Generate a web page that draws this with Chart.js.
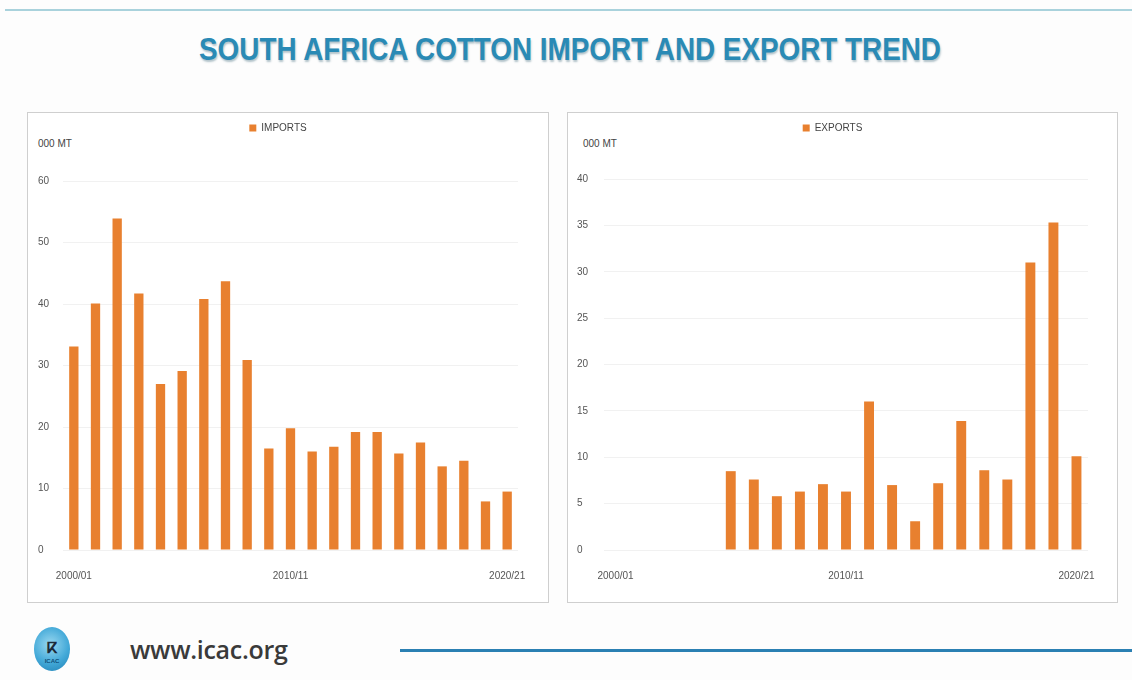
<!DOCTYPE html>
<html>
<head>
<meta charset="utf-8">
<script src="https://cdn.jsdelivr.net/npm/chart.js@4/dist/chart.umd.min.js"></script>
<style>
  html, body { margin: 0; padding: 0; }
  body { width: 1132px; height: 680px; background: #fdfdfd; position: relative; overflow: hidden; font-family: 'Liberation Sans', Arial, sans-serif; }
  .topline { position: absolute; left: 5px; right: 0; top: 9px; height: 2px; background: #a9d2dc; }
  .title { position: absolute; left: 0; width: 1140px; top: 31px; text-align: center; font-family: 'Liberation Sans', sans-serif; font-weight: bold; font-size: 32px; color: #2a8ab5; text-shadow: 1px 2px 2px rgba(40,90,110,0.35); transform: scaleX(0.87); transform-origin: 570px 0; }
  .panel { position: absolute; top: 112px; height: 489px; border: 1.5px solid #cfcfcf; background: #fff; }
  .unit { position: absolute; top: 138px; font-size: 10px; color: #444; }
  canvas { position: absolute; }
  .logo { position: absolute; left: 34px; top: 627px; width: 36px; height: 44px; border-radius: 50%; background: radial-gradient(circle at 45% 40%, #9ad8f0 0%, #43a9d8 55%, #1f7fb4 100%); }
  .logo span { position: absolute; left: 0; width: 36px; top: 12px; text-align: center; font-size: 15px; font-weight: bold; color: #1d2b3a; }
  .logo i { position: absolute; left: 0; width: 36px; top: 31px; text-align: center; font-size: 6px; font-style: normal; color: #0f4f7a; font-weight: bold; }
  .site { position: absolute; left: 130px; top: 632px; font-family: 'Open Sans', sans-serif; font-weight: 600; font-size: 25px; color: #3a3a3a; letter-spacing: -0.3px; }
  .footline { position: absolute; left: 400px; right: 0; top: 649px; height: 3px; background: #2b80b3; }
</style>
</head>
<body>
<div class="topline"></div>
<div class="title">SOUTH AFRICA COTTON IMPORT AND EXPORT TREND</div>
<div class="panel" style="left:27px; width:520px;"></div>
<div class="panel" style="left:567px; width:549px;"></div>
<div class="unit" style="left:38px;">000 MT</div>
<div class="unit" style="left:583px;">000 MT</div>
<canvas id="imports" style="left:30px; top:116px;" width="505" height="482"></canvas>
<canvas id="exports" style="left:570px; top:116px;" width="535" height="482"></canvas>
<div class="logo"><span>ⴽ</span><i>ICAC</i></div>
<div class="site">www.icac.org</div>
<div class="footline"></div>
<script>
// 季度（2000/01 … 2020/21）
const seasons = ['2000/01','2001/02','2002/03','2003/04','2004/05','2005/06','2006/07','2007/08','2008/09','2009/10',
  '2010/11','2011/12','2012/13','2013/14','2014/15','2015/16','2016/17','2017/18','2018/19','2019/20','2020/21'];
const shownLabels = ['2000/01', '2010/11', '2020/21'];

// 000 MT
const imports = [33.1, 40.1, 53.9, 41.7, 27.0, 29.1, 40.8, 43.7, 30.9, 16.5, 19.8, 16.0, 16.8, 19.2, 19.2, 15.7, 17.5, 13.6, 14.5, 7.9, 9.5];
const exports = [null, null, null, null, null, 8.5, 7.6, 5.8, 6.3, 7.1, 6.3, 16.0, 7.0, 3.1, 7.2, 13.9, 8.6, 7.6, 31.0, 35.3, 10.1];

const importTicks = { max: 60, step: 10 };
const exportTicks = { max: 40, step: 5 };

const BAR = '#e8802f';
const TICK_FONT = { family: "'Liberation Sans', Arial, sans-serif", size: 10 };

function makeChart(canvas, label, data, ticks, pad) {
  // legend 高度固定，讓繪圖區上緣落在指定位置
  const legendHeight = {
    id: 'legendHeight',
    beforeInit(chart) {
      const fit = chart.legend.fit;
      chart.legend.fit = function () {
        fit.bind(chart.legend)();
        this.height = pad.legend;
      };
    },
  };
  return new Chart(canvas, {
    type: 'bar',
    data: {
      labels: seasons,
      datasets: [{ label, data, backgroundColor: BAR, borderWidth: 0, barPercentage: 0.86, categoryPercentage: 0.5 }],
    },
    plugins: [legendHeight],
    options: {
      responsive: false,
      animation: false,
      layout: { padding: { left: pad.left, right: pad.right, top: 0, bottom: 0 } },
      plugins: {
        legend: {
          position: 'top',
          labels: { boxWidth: 7, boxHeight: 7, padding: 7, color: '#444', font: TICK_FONT },
        },
        tooltip: { enabled: false },
      },
      scales: {
        x: {
          // 透明刻度線把標籤往下推（ticks.padding 會被算進左右留白）
          grid: { display: true, drawOnChartArea: false, drawTicks: true, tickLength: 20, tickColor: 'rgba(0,0,0,0)' },
          border: { display: false },
          afterFit: (s) => { s.height = 48; },
          ticks: {
            autoSkip: false, maxRotation: 0, padding: 0, color: '#555', font: TICK_FONT,
            callback: (v, i) => (shownLabels.includes(seasons[i]) ? seasons[i] : ''),
          },
        },
        y: {
          min: 0, max: ticks.max,
          grid: { color: '#f1f1f1', drawTicks: false },
          border: { display: false },
          afterFit: (s) => { s.width = pad.axis; },
          ticks: { stepSize: ticks.step, crossAlign: 'far', padding: 0, color: '#555', font: TICK_FONT },
        },
      },
    },
  });
}

makeChart(document.getElementById('imports'), 'IMPORTS', imports, importTicks, { left: 8, right: 17, axis: 25, legend: 65 });
makeChart(document.getElementById('exports'), 'EXPORTS', exports, exportTicks, { left: 7, right: 17, axis: 27, legend: 63 });
</script>
</body>
</html>
